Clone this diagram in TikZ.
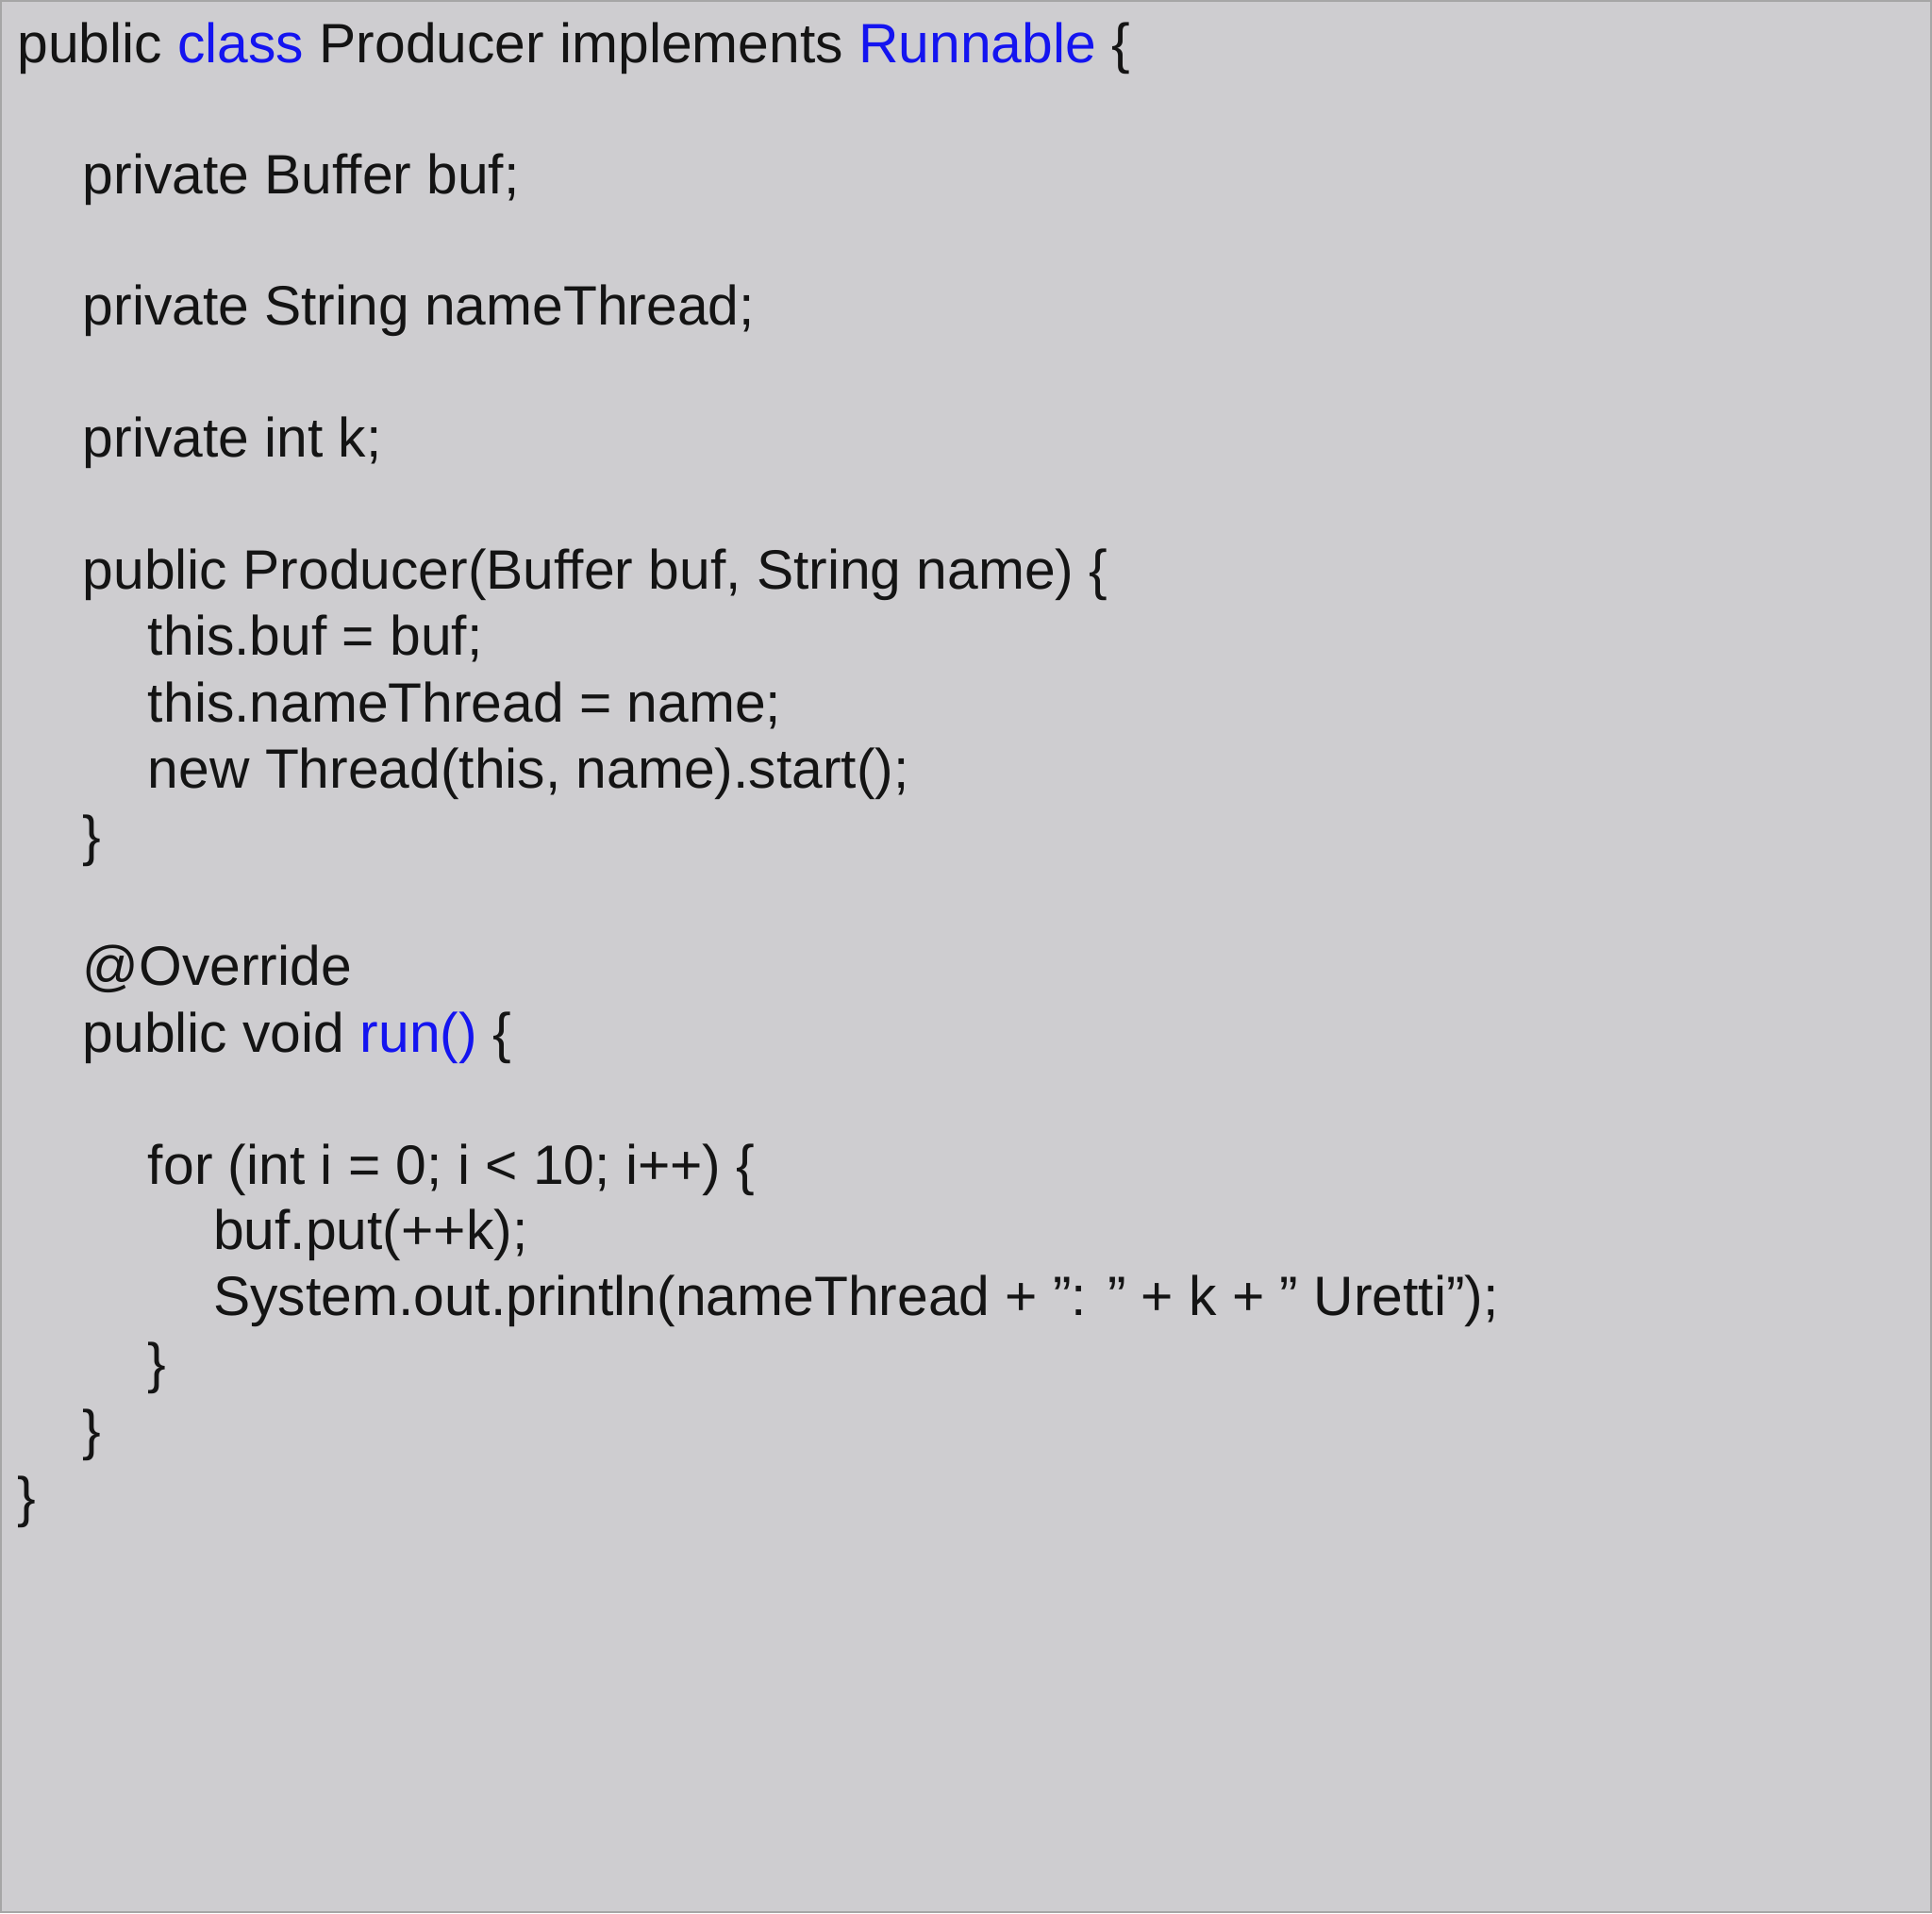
\documentclass[tikz,border=0pt]{standalone}
\usepackage{fontspec}
\setmainfont{Liberation Sans}
\definecolor{bg}{HTML}{CECDD0}
\definecolor{kw}{HTML}{1414F0}
\definecolor{tx}{HTML}{141414}
\begin{document}
\begin{tikzpicture}[x=1pt,y=-1pt,
  code/.style={anchor=base west,inner sep=0pt,font=\fontsize{45}{54}\selectfont,text=tx}]
\useasboundingbox (0,0) rectangle (1568,1553);
\fill[bg,draw=gray!70,line width=1.5pt] (0.75,0.75) rectangle (1567.25,1552.25);
\node[code] (l1) at (14,51) {public \textcolor{kw}{class} Producer implements \textcolor{kw}{Runnable} \{};
\node[code] (l2) at (67,157) {private Buffer buf;};
\node[code] (l3) at (67,264) {private String nameThread;};
\node[code] (l4) at (67,371) {private int k;};
\node[code] (l5) at (67,478) {public Producer(Buffer buf, String name) \{};
\node[code] (l6) at (120,532) {this.buf = buf;};
\node[code] (l7) at (120,586) {this.nameThread = name;};
\node[code] (l8) at (120,640) {new Thread(this, name).start();};
\node[code] (l9) at (67,694) {\}};
\node[code] (l10) at (67,800) {@Override};
\node[code] (l11) at (67,854) {public void \textcolor{kw}{run()} \{};
\node[code] (l12) at (120,961) {for (int i = 0; i < 10; i++) \{};
\node[code] (l13) at (173,1014) {buf.put(++k);};
\node[code] (l14) at (173,1068) {System.out.println(nameThread + ": " + k + " Uretti");};
\node[code] (l15) at (120,1122) {\}};
\node[code] (l16) at (67,1176) {\}};
\node[code] (l17) at (14,1231) {\}};
\end{tikzpicture}
\end{document}
